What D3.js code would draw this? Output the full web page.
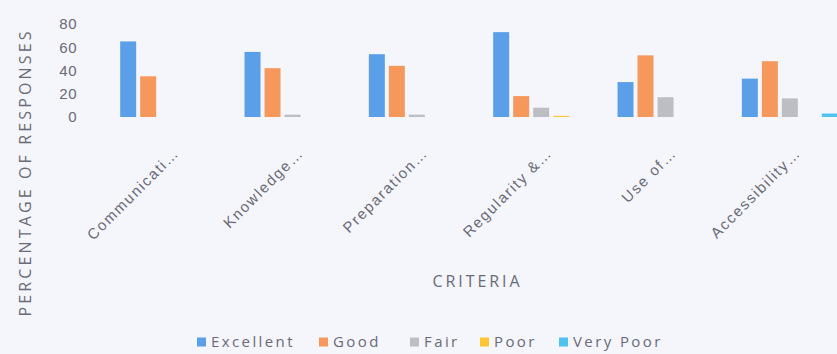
<!DOCTYPE html>
<html>
<head>
<meta charset="utf-8">
<script src="https://cdn.jsdelivr.net/npm/d3@7"></script>
<style>
  html, body { margin: 0; padding: 0; background: #f5f5fc; }
  svg { display: block; font-family: "Open Sans", sans-serif; }
</style>
</head>
<body>
<svg id="chart" width="837" height="354"></svg>
<script>
// data (percent of responses)
const criteria = ['Communicati…', 'Knowledge…', 'Preparation…', 'Regularity &…', 'Use of…', 'Accessibility…'];
const ratings = ['Excellent', 'Good', 'Fair', 'Poor', 'Very Poor'];
const excellent = [65, 56, 54, 73, 30, 33];
const good = [35, 42, 44, 18, 53, 48];
const fair = [0, 2, 2, 8, 17, 16];
const poor = [0, 0, 0, 1, 0, 0];
const veryPoor = [0, 0, 0, 0, 0, 3];
const yTicks = [0, 20, 40, 60, 80];

const colors = ['#5b9fe8', '#f6985b', '#bdbdc4', '#ffc533', '#4fc3ec'];
const seriesValues = [excellent, good, fair, poor, veryPoor];

const svg = d3.select('#chart');
const textColor = '#696b76';

const x0 = d3.scaleBand(criteria, [106, 852]);
const x1 = d3.scaleBand(ratings, [0, x0.bandwidth()])
  .paddingInner(0.2)
  .paddingOuter(0.71);
const y = d3.scaleLinear([0, 80], [117, 24]);

// bars
const groups = svg.append('g')
  .selectAll('g')
  .data(criteria)
  .join('g')
    .attr('transform', d => `translate(${x0(d)},0)`);

groups.selectAll('rect')
  .data((d, i) => ratings.map((r, j) => ({ r, v: seriesValues[j][i], c: colors[j] })))
  .join('rect')
    .attr('x', d => x1(d.r))
    .attr('y', d => y(d.v))
    .attr('width', x1.bandwidth())
    .attr('height', d => y(0) - y(d.v))
    .attr('fill', d => d.c);

// y axis (labels only)
const yAxis = svg.append('g')
  .attr('transform', 'translate(77,0)')
  .call(d3.axisLeft(y).tickValues(yTicks).tickSize(0).tickPadding(0));
yAxis.select('.domain').remove();
yAxis.selectAll('text')
  .attr('fill', textColor)
  .style('font-size', '15px')
  .style('letter-spacing', '0.5px');

// x axis labels, rotated
const xAxis = svg.append('g')
  .attr('transform', 'translate(0,150)')
  .call(d3.axisBottom(x0).tickSize(0).tickPadding(0));
xAxis.select('.domain').remove();
xAxis.selectAll('text')
  .attr('fill', textColor)
  .style('font-size', '15px')
  .style('letter-spacing', '1.7px')
  .attr('text-anchor', 'end')
  .attr('dy', 0)
  .attr('transform', 'translate(12,4) rotate(-45)');

// axis titles
svg.append('text')
  .attr('transform', 'translate(31,174) rotate(-90)')
  .attr('text-anchor', 'middle')
  .attr('fill', textColor)
  .style('font-size', '16px')
  .attr('textLength', 285)
  .attr('lengthAdjust', 'spacing')
  .text('PERCENTAGE OF RESPONSES');

svg.append('text')
  .attr('x', 476)
  .attr('y', 287)
  .attr('text-anchor', 'middle')
  .attr('fill', textColor)
  .style('font-size', '16px')
  .attr('textLength', 87)
  .attr('lengthAdjust', 'spacing')
  .text('CRITERIA');

// legend
const legendX = [197, 319, 410, 480, 559];
const legend = svg.append('g')
  .selectAll('g')
  .data(ratings)
  .join('g')
    .attr('transform', (d, i) => `translate(${legendX[i]},342)`);
legend.append('rect')
  .attr('x', 0).attr('y', -4.5)
  .attr('width', 9).attr('height', 9)
  .attr('fill', (d, i) => colors[i]);
legend.append('text')
  .attr('x', 14)
  .attr('dy', '0.35em')
  .attr('fill', textColor)
  .style('font-size', '15px')
  .style('letter-spacing', '2.4px')
  .text(d => d);
</script>
</body>
</html>
